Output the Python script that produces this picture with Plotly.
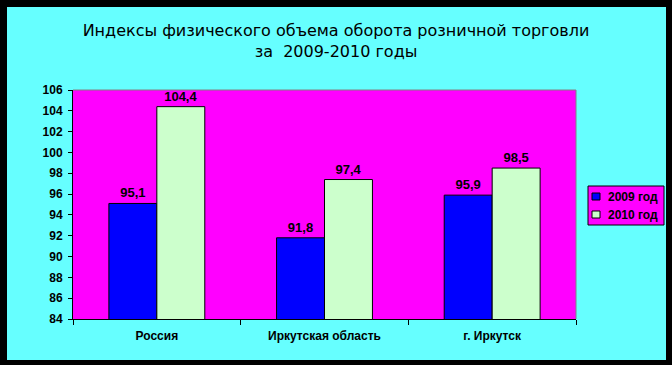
import plotly.graph_objects as go

categories = ["Россия", "Иркутская область", "г. Иркутск"]
series_names = ["2009 год", "2010 год"]
values_2009 = [95.1, 91.8, 95.9]
values_2010 = [104.4, 97.4, 98.5]
series_colors = ["#0000FF", "#CCFFCC"]
y_tick_values = list(range(84, 107, 2))

W, H = 672, 365
L, R, T, B = 73, 96, 90, 46
PW, PH = W - L - R, H - T - B

def px_x(px):
    return (px - L) / PW

def px_y(py):
    return (H - B - py) / PH

FONT = "Liberation Sans, Arial, sans-serif"
TITLE_FONT = "DejaVu Sans, sans-serif"

def fmt(v):
    return f"{v:.1f}".replace(".", ",")

fig = go.Figure()
for name, vals, color in zip(series_names, [values_2009, values_2010], series_colors):
    fig.add_trace(go.Bar(
        name=name, x=categories, y=vals,
        marker=dict(color=color, line=dict(color="black", width=1)),
        text=[fmt(v) for v in vals], textposition="outside",
        textfont=dict(family=FONT, size=13, color="black", weight="bold"),
        cliponaxis=False,
    ))

shapes = [
    dict(type="line", xref="paper", yref="paper", x0=0, x1=1, y0=1, y1=1,
         line=dict(color="#808080", width=1), layer="below"),
    dict(type="line", xref="paper", yref="paper", x0=1, x1=1, y0=0, y1=1,
         line=dict(color="#808080", width=1), layer="below"),
]
# black outer frame
for (x0, x1, y0, y1) in [
    (px_x(-10), px_x(7), px_y(H + 10), px_y(-10)),
    (px_x(666), px_x(W + 10), px_y(H + 10), px_y(-10)),
    (px_x(-10), px_x(W + 10), px_y(7), px_y(-10)),
    (px_x(-10), px_x(W + 10), px_y(H + 10), px_y(360)),
]:
    shapes.append(dict(type="rect", xref="paper", yref="paper",
                       x0=x0, x1=x1, y0=y0, y1=y1,
                       fillcolor="black", line=dict(width=0), layer="above"))

# legend box
shapes.append(dict(type="rect", xref="paper", yref="paper",
                   x0=px_x(588), x1=px_x(664), y0=px_y(225), y1=px_y(186),
                   fillcolor="#FF00FF", line=dict(color="black", width=1), layer="above"))
annotations = []
for i, (name, color) in enumerate(zip(series_names, series_colors)):
    top = 193 + i * 18
    shapes.append(dict(type="rect", xref="paper", yref="paper",
                       x0=px_x(592), x1=px_x(600), y0=px_y(top + 7), y1=px_y(top),
                       fillcolor=color, line=dict(color="black", width=1), layer="above"))
    annotations.append(dict(
        text=name, xref="paper", yref="paper",
        x=px_x(606), y=px_y(top + 4), xanchor="left", yanchor="middle",
        showarrow=False,
        font=dict(family=FONT, size=12, color="black", weight="bold"),
    ))

fig.update_layout(
    width=W, height=H,
    margin=dict(l=L, r=R, t=T, b=B),
    paper_bgcolor="#66FFFF",
    plot_bgcolor="#FF00FF",
    barmode="group",
    bargap=0.428,
    bargroupgap=0,
    font=dict(family=FONT, color="black"),
    title=dict(
        text="Индексы физического объема оборота розничной торговли<br>за  2009-2010 годы",
        x=0.5, xanchor="center", xref="container",
        y=1 - 36 / H, yanchor="top", yref="container",
        font=dict(family=TITLE_FONT, size=16, color="black"),
    ),
    xaxis=dict(
        type="category",
        showline=True, linecolor="black", linewidth=1,
        ticks="outside", tickson="boundaries", ticklen=5, tickcolor="black",
        ticklabelstandoff=6,
        tickfont=dict(family=FONT, size=12, color="black", weight="bold"),
        showgrid=False,
    ),
    yaxis=dict(
        range=[84, 106], tickvals=y_tick_values,
        showline=True, linecolor="black", linewidth=1,
        ticks="outside", ticklen=4, tickcolor="black",
        ticklabelstandoff=3,
        tickfont=dict(family=FONT, size=12, color="black", weight="bold"),
        showgrid=False, zeroline=False,
    ),
    shapes=shapes,
    annotations=annotations,
    showlegend=False,
)

fig.write_html("out.html", config={"displayModeBar": False},
               post_script="document.body.style.margin='0';document.body.style.overflow='hidden';")
